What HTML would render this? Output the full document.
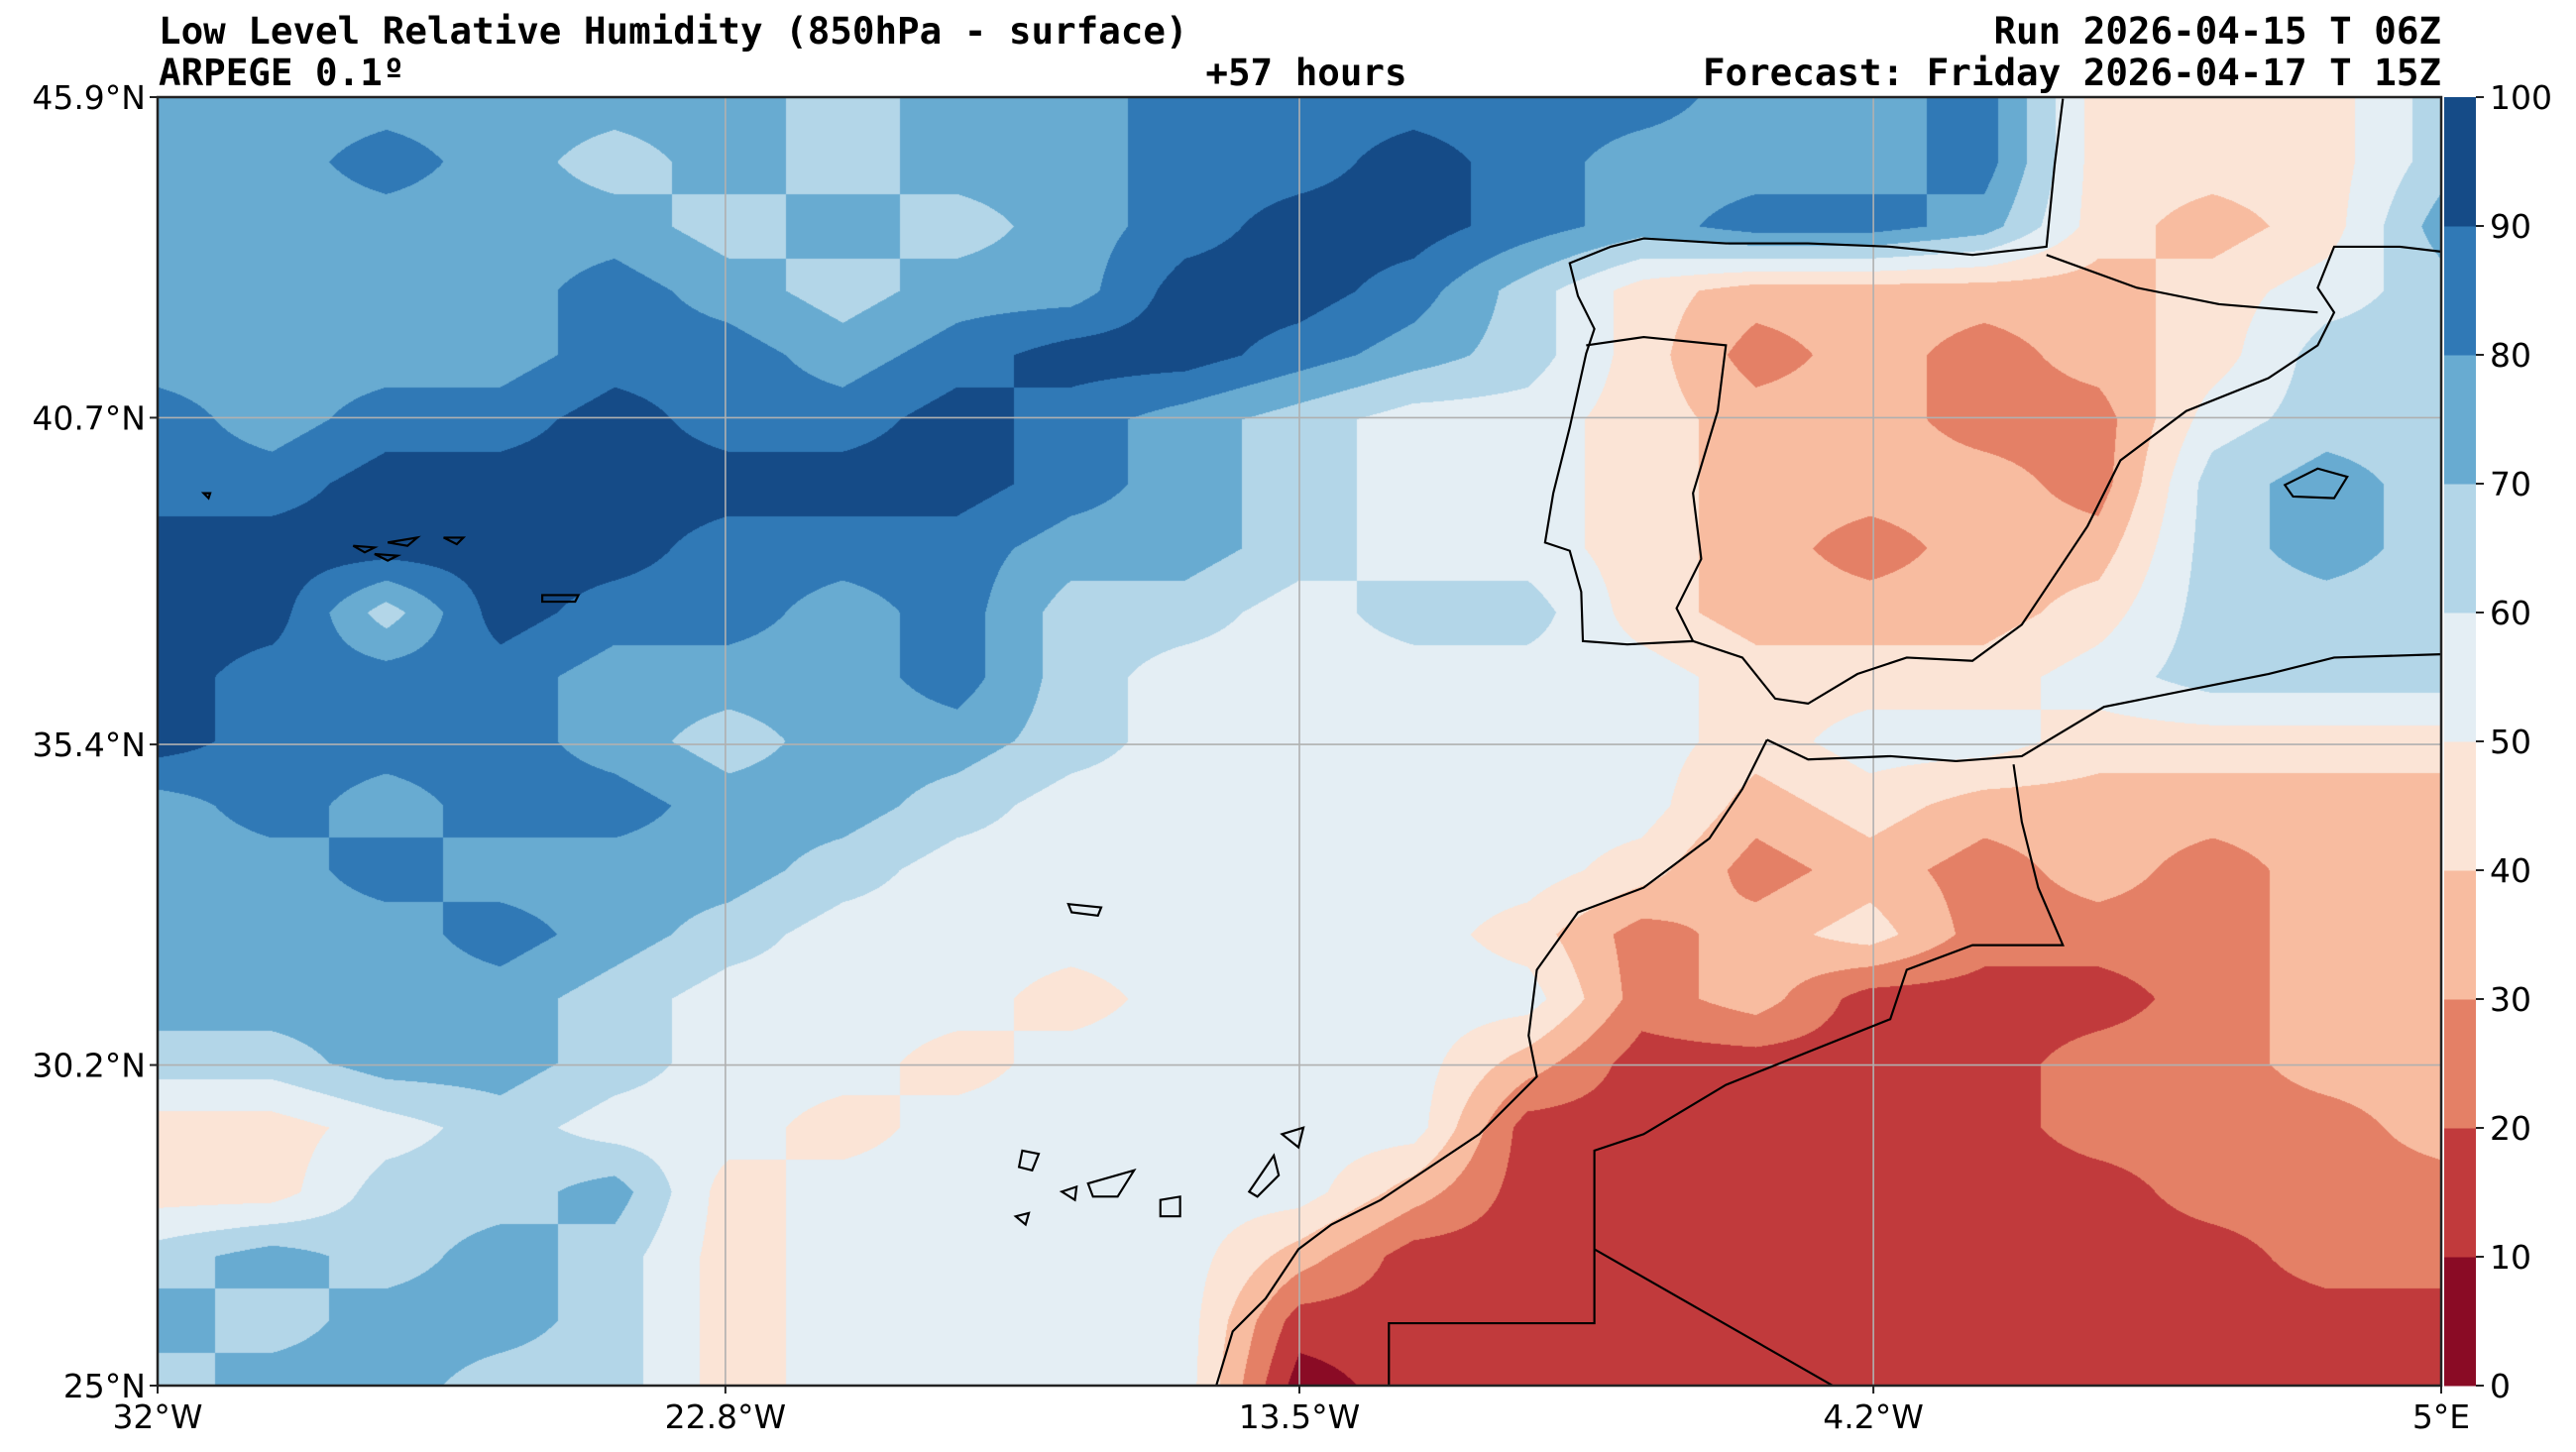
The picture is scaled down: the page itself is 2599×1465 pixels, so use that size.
<!DOCTYPE html>
<html><head><meta charset="utf-8">
<style>
html,body{margin:0;padding:0;background:#fff;}
#wrap{position:relative;width:2599px;height:1465px;overflow:hidden;font-family:"DejaVu Sans","Liberation Sans",sans-serif;}
.t{position:absolute;font-family:"DejaVu Sans Mono","Liberation Mono",monospace;font-weight:bold;font-size:37.5px;color:#000;white-space:nowrap;line-height:1;}
canvas{position:absolute;left:159px;top:98px;}
svg{position:absolute;left:0;top:0;}
</style></head><body>
<div id="wrap">
<div class="t" style="left:160px;top:13px;">Low Level Relative Humidity (850hPa - surface)</div>
<div class="t" style="left:160px;top:55px;">ARPEGE 0.1º</div>
<div class="t" style="left:1318px;top:55px;transform:translateX(-50%);">+57 hours</div>
<div class="t" style="right:136px;top:13px;">Run 2026-04-15 T 06Z</div>
<div class="t" style="right:136px;top:55px;">Forecast: Friday 2026-04-17 T 15Z</div>
<canvas id="map" width="2304" height="1300"></canvas>
<svg id="ov" width="2599" height="1465"></svg>
</div>
<script>
const lonTicks=[-32,-22.8,-13.5,-4.2,5];
const lonLabels=["32°W","22.8°W","13.5°W","4.2°W","5°E"];
const latTicks=[45.9,40.7,35.4,30.2,25];
const latLabels=["45.9°N","40.7°N","35.4°N","30.2°N","25°N"];
const levels=[0,10,20,30,40,50,60,70,80,90,100];
const levelColors=["#8a0b25","#c13a3c","#e48066","#f8bca0","#fbe4d6","#e4eef4","#b3d6e8","#68abd1","#3079b6","#154b87"];
// relative humidity grid, rows north->south (45.9N..25N), cols west->east (32W..5E)
const rh=[
[75,75,75,75,75,75,65,75,75,85,85,85,85,85,75,75,85,45,45,45,65],
[75,75,85,75,65,75,65,75,75,85,85,95,85,75,75,75,85,45,45,45,65],
[75,75,75,75,75,65,75,65,75,85,95,95,85,75,85,85,75,45,35,45,75],
[75,75,75,75,85,75,65,75,75,95,95,85,65,45,35,35,35,35,45,55,65],
[75,75,75,75,85,85,75,85,95,95,85,75,65,45,25,35,25,35,45,65,65],
[85,75,85,85,95,85,85,95,85,75,65,55,55,45,35,35,25,25,55,65,65],
[85,85,95,95,95,95,95,95,85,75,65,55,55,45,35,35,35,25,65,75,65],
[95,95,95,95,95,85,85,85,75,75,65,55,55,45,35,25,35,35,65,75,65],
[95,95,65,95,85,85,75,85,65,65,55,65,65,45,35,35,35,45,65,65,65],
[95,85,85,85,75,75,75,85,65,55,55,55,55,55,45,45,45,55,65,65,65],
[95,85,85,85,75,65,75,75,65,55,55,55,55,55,45,55,55,45,45,45,45],
[75,85,75,85,85,75,75,65,55,55,55,55,55,55,35,45,35,35,35,35,35],
[75,75,85,75,75,75,65,55,55,55,55,55,55,45,25,35,25,35,25,35,35],
[75,75,75,85,75,65,55,55,55,55,55,55,45,25,35,45,25,25,25,35,35],
[75,75,75,75,65,55,55,55,45,55,55,55,55,25,35,15,15,15,25,35,35],
[65,65,75,75,65,55,55,45,55,55,55,55,35,15,15,15,15,25,25,35,35],
[45,45,55,65,55,55,45,55,55,55,55,55,15,15,15,15,15,25,25,25,35],
[45,45,65,65,75,45,55,55,55,55,55,35,15,15,15,15,15,15,25,25,25],
[65,75,65,75,65,45,55,55,55,55,35,15,15,15,15,15,15,15,15,25,25],
[75,65,75,75,65,45,55,55,55,55,15,15,15,15,15,15,15,15,15,15,15],
[65,75,75,65,65,45,55,55,55,55,5,15,15,15,15,15,15,15,15,15,15]
];
const X0=159,X1=2463,Y0=98,Y1=1398,LON0=-32,LON1=5,LAT0=25,LAT1=45.9;
function xs(lon){return X0+(lon-LON0)/(LON1-LON0)*(X1-X0);}
function ys(lat){return Y0+(LAT1-lat)/(LAT1-LAT0)*(Y1-Y0);}
function colorFor(v){for(let i=0;i<levels.length-1;i++){if(v<levels[i+1])return i;}return levelColors.length-1;}
const cv=document.getElementById('map');const ctx=cv.getContext('2d');
const W=cv.width,H=cv.height;const img=ctx.createImageData(W,H);
const rgb=levelColors.map(c=>[parseInt(c.slice(1,3),16),parseInt(c.slice(3,5),16),parseInt(c.slice(5,7),16)]);
const nr=rh.length,nc=rh[0].length;
for(let py=0;py<H;py++){const gy=py/(H-1)*(nr-1);const r0=Math.min(Math.floor(gy),nr-2);const fy=gy-r0;
 for(let px=0;px<W;px++){const gx=px/(W-1)*(nc-1);const c0=Math.min(Math.floor(gx),nc-2);const fx=gx-c0;
  const v=(rh[r0][c0]*(1-fx)+rh[r0][c0+1]*fx)*(1-fy)+(rh[r0+1][c0]*(1-fx)+rh[r0+1][c0+1]*fx)*fy;
  const k=rgb[colorFor(v)];const o=(py*W+px)*4;img.data[o]=k[0];img.data[o+1]=k[1];img.data[o+2]=k[2];img.data[o+3]=255;}}
ctx.putImageData(img,0,0);
const NS='http://www.w3.org/2000/svg';const svg=document.getElementById('ov');
function mk(t,a){const e=document.createElementNS(NS,t);for(const k in a)e.setAttribute(k,a[k]);svg.appendChild(e);return e;}
lonTicks.forEach((l,i)=>{const g=mk('line',{x1:xs(l),x2:xs(l),y1:Y0,y2:Y1,stroke:'#b0b0b0','stroke-width':1.6});


const tk=mk('line',{x1:xs(l),x2:xs(l),y1:Y1,y2:Y1+8,stroke:'#222','stroke-width':2});


const t=mk('text',{x:xs(l),y:Y1+43,'text-anchor':'middle','font-size':33,'font-family':'DejaVu Sans, Liberation Sans, sans-serif'});t.textContent=lonLabels[i];

});
latTicks.forEach((l,i)=>{const g=mk('line',{x1:X0,x2:X1,y1:ys(l),y2:ys(l),stroke:'#b0b0b0','stroke-width':1.6});


const tk=mk('line',{x1:X0-8,x2:X0,y1:ys(l),y2:ys(l),stroke:'#222','stroke-width':2});


const t=mk('text',{x:X0-12,y:ys(l)+12,'text-anchor':'end','font-size':33,'font-family':'DejaVu Sans, Liberation Sans, sans-serif'});t.textContent=latLabels[i];

});
const g=mk('g',{transform:'translate(159,98) scale(1.6586,1.6582) translate(-96,-59)',fill:'none',stroke:'#000','stroke-width':1.3});


function pth(d,name){const e=document.createElementNS(NS,'path');e.setAttribute('d',d);g.appendChild(e);

}
pth('M1255,60 L1250,100 L1245,150 L1200,155 L1150,150 L1100,148 L1050,148 L1000,145 L980,150 L955,160 L960,180 L970,200 L965,215 L955,260 L945,300 L940,330 L955,335 L962,360 L963,390 L990,392 L1030,390 L1060,400 L1080,425 L1100,428 L1130,410 L1160,400 L1200,402 L1230,380 L1250,350 L1270,320 L1290,280 L1330,250 L1380,230 L1410,210 L1420,190 L1410,175 L1420,150 L1460,150 L1485,153','iberia-coast');
pth('M1245,155 L1300,175 L1350,185 L1410,190','pyrenees-border');
pth('M965,210 L1000,205 L1050,210 L1045,250 L1030,300 L1035,340 L1020,370 L1030,390','portugal-border');
pth('M1075,450 L1100,462 L1150,460 L1190,463 L1230,460 L1280,430 L1330,420 L1380,410 L1420,400 L1485,398 M1075,450 L1060,480 L1040,510 L1000,540 L960,555 L935,590 L930,630 L935,655 L900,690 L870,710 L840,730 L810,745 L790,760 L770,790 L750,810 L740,843','africa-coast');
pth('M1225,465 L1230,500 L1240,540 L1255,575 L1200,575 L1160,590 L1150,620 L1100,640 L1050,660 L1000,690 L970,700 L970,760 L1115,843 M970,745 L970,805 L845,805 L845,843','africa-borders');
pth('M1390,295 L1410,285 L1428,290 L1420,303 L1395,302 Z','balearics');
pth('M650,550 L670,552 L668,557 L652,555 Z','madeira');
pth('M622,700 L632,702 L628,712 L620,710 Z M646,725 L655,722 L654,730 Z M662,720 L690,712 L680,728 L665,728 Z M706,730 L718,728 L718,740 L706,740 Z M760,725 L775,703 L778,715 L765,728 Z M780,690 L793,686 L790,698 Z M618,740 L626,738 L624,745 Z','canary-islands');
pth('M330,362 L352,362 L350,366 L330,366 Z M215,332 L228,333 L222,336 Z M228,337 L242,338 L236,341 Z M236,330 L254,327 L248,332 Z M270,327 L282,327 L278,331 Z M124,300 L128,300 L127,303 Z','azores');
const fr=mk('rect',{x:X0,y:Y0,width:X1-X0,height:Y1-Y0,fill:'none',stroke:'#222','stroke-width':2.5});


const CB0=2466,CB1=2498;
for(let i=0;i<levelColors.length;i++){const yTop=Y1-(levels[i+1]/100)*(Y1-Y0),yBot=Y1-(levels[i]/100)*(Y1-Y0);
 const r=mk('rect',{x:CB0,y:yTop,width:CB1-CB0,height:yBot-yTop+0.5,fill:levelColors[i]});
 
 }
levels.forEach(v=>{const y=Y1-(v/100)*(Y1-Y0);
 const tk=mk('line',{x1:CB1,x2:CB1+8,y1:y,y2:y,stroke:'#222','stroke-width':2});
 
 
 const t=mk('text',{x:CB1+14,y:y+12,'font-size':33,'font-family':'DejaVu Sans, Liberation Sans, sans-serif'});t.textContent=v;
 
 });
</script>
</body></html>
